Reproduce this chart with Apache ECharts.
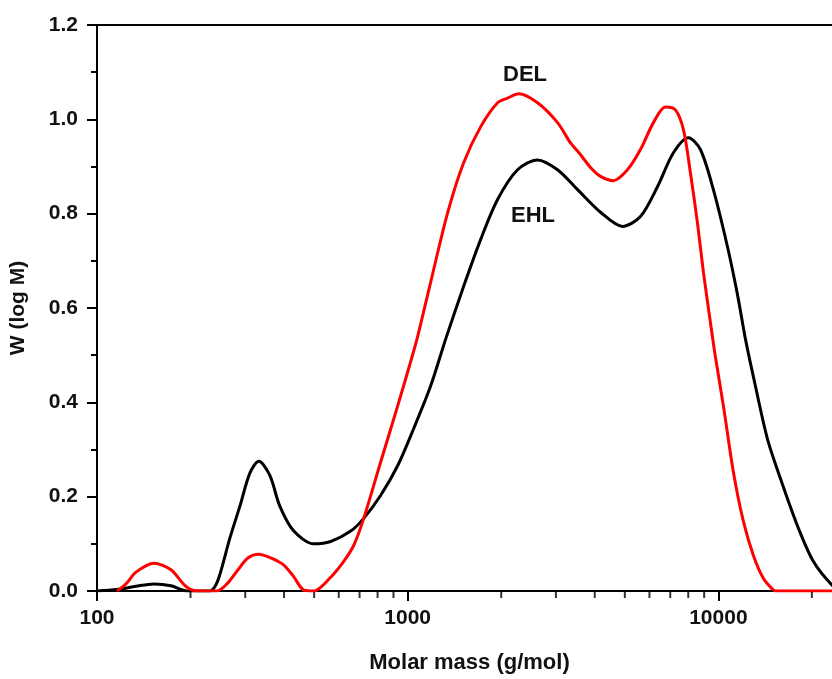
<!DOCTYPE html>
<html>
<head>
<meta charset="utf-8">
<script src="https://cdn.jsdelivr.net/npm/echarts@6/dist/echarts.min.js"></script>
<style>
html,body{margin:0;padding:0;background:#fff;overflow:hidden;width:832px;height:679px;}
#chart{width:860px;height:679px;}
</style>
</head>
<body>
<div id="chart"></div>
<script>
// EHL (black) curve: molar mass (g/mol) and W(log M)
var ehlMass = [100,116,133.5,152.5,173,194.7,230.8,240,248.6,267.7,288.4,310.5,331.8,360,387.6,430,498.5,565,655.7,722,819,929,1045,1186,1325,1514,1717,1947,2258,2618,3036,3521,4175,4912,5613,6367,7166,8010,8752,9636,10689,11510,12215,12957,14378,15830,17950,20208,23260,25000];
var ehlW    = [0,0.003,0.010,0.015,0.011,0,0,0.010,0.035,0.112,0.180,0.250,0.275,0.245,0.180,0.127,0.100,0.105,0.127,0.154,0.203,0.266,0.344,0.435,0.534,0.646,0.745,0.830,0.893,0.914,0.893,0.851,0.803,0.773,0.794,0.857,0.929,0.961,0.936,0.851,0.731,0.630,0.535,0.455,0.323,0.239,0.139,0.063,0.012,0];

// DEL (red) curve
var delMass = [116,124,133.5,152.5,173,193,209.6,243,262,282,306,331.8,362.6,399.3,430,463,498.5,561,622.6,670.6,722,819,929,1022,1077,1186,1345,1514,1717,1947,2097,2275,2618,3036,3343,3601,3876,4175,4596,5098,5613,6180,6754,7273,7719,8128,8561,8951,9425,9779,10378,11174,12034,12957,13954,15025,15300,25000];
var delW    = [0,0.015,0.040,0.059,0.045,0.010,0,0,0.015,0.042,0.070,0.078,0.070,0.055,0.030,0.002,0,0.027,0.063,0.097,0.154,0.274,0.393,0.486,0.540,0.655,0.802,0.908,0.984,1.035,1.045,1.054,1.035,0.993,0.950,0.925,0.898,0.879,0.870,0.893,0.936,0.993,1.026,1.020,0.978,0.887,0.781,0.676,0.570,0.497,0.393,0.253,0.148,0.076,0.027,0.002,0,0];

// x axis minor tick positions (log axis, 2..9 per decade)
var xMinorTicks = [200,300,400,500,600,700,800,900,2000,3000,4000,5000,6000,7000,8000,9000,20000];

// axis settings
var xMin = 100, xMax = 25000;
var yMin = 0, yMax = 1.2, yStep = 0.2;

// curve labels
var curveLabels = [
  {text: 'DEL', x: 525, y: 75},
  {text: 'EHL', x: 533, y: 216}
];

function zip(a, b) { return a.map(function (v, i) { return [v, b[i]]; }); }

var font = '"Liberation Sans", Arial, sans-serif';
var chart = echarts.init(document.getElementById('chart'));
chart.setOption({
  backgroundColor: '#ffffff',
  animation: false,
  grid: {
    left: 96, top: 25, width: 746, height: 568,
    show: true, borderColor: '#000', borderWidth: 2, backgroundColor: 'transparent'
  },
  xAxis: {
    type: 'log', logBase: 10, min: xMin, max: xMax,
    name: 'Molar mass (g/mol)', nameLocation: 'middle', nameGap: 61,
    nameTextStyle: {fontFamily: font, fontWeight: 'bold', fontSize: 22, color: '#111'},
    axisLine: {show: true, onZero: false, lineStyle: {color: '#000', width: 2}},
    axisTick: {show: true, length: 10, lineStyle: {color: '#000', width: 2}},
    minorTick: {show: false},
    splitLine: {show: false},
    axisLabel: {
      margin: 17, fontFamily: font, fontWeight: 'bold', fontSize: 21, color: '#111',
      showMaxLabel: false,
      formatter: function (v) {
        var l = Math.log10(v);
        return Math.abs(l - Math.round(l)) < 1e-6 ? String(Math.round(v)) : '';
      }
    }
  },
  yAxis: {
    type: 'value', min: yMin, max: yMax, interval: yStep,
    name: 'W (log M)', nameLocation: 'middle', nameGap: 68,
    nameTextStyle: {fontFamily: font, fontWeight: 'bold', fontSize: 21, color: '#111'},
    axisLine: {show: true, lineStyle: {color: '#000', width: 2}},
    axisTick: {show: true, length: 10, lineStyle: {color: '#000', width: 2}},
    minorTick: {show: true, splitNumber: 2, length: 6, lineStyle: {color: '#000', width: 2}},
    splitLine: {show: false},
    axisLabel: {
      margin: 19, fontFamily: font, fontWeight: 'bold', fontSize: 21, color: '#111',
      formatter: function (v) { return v.toFixed(1); }
    }
  },
  series: [
    {
      name: 'EHL', type: 'line', data: zip(ehlMass, ehlW),
      showSymbol: false, smooth: 0.3, clip: true,
      lineStyle: {color: '#000', width: 3}, z: 3
    },
    {
      name: 'DEL', type: 'line', data: zip(delMass, delW),
      showSymbol: false, smooth: 0.3, clip: true,
      lineStyle: {color: '#ff0000', width: 3}, z: 4
    },
    {
      name: 'minorTicks', type: 'scatter', silent: true, clip: false,
      data: xMinorTicks.map(function (m) { return [m, 0]; }),
      symbol: 'rect', symbolSize: [2, 6], symbolOffset: [0, 4],
      itemStyle: {color: '#000'}, z: 1
    }
  ],
  graphic: curveLabels.map(function (c) {
    return {
      type: 'text', x: c.x, y: c.y,
      style: {
        text: c.text, fill: '#111',
        font: 'bold 22px ' + font, align: 'center', verticalAlign: 'middle'
      }
    };
  })
});
</script>
</body>
</html>
